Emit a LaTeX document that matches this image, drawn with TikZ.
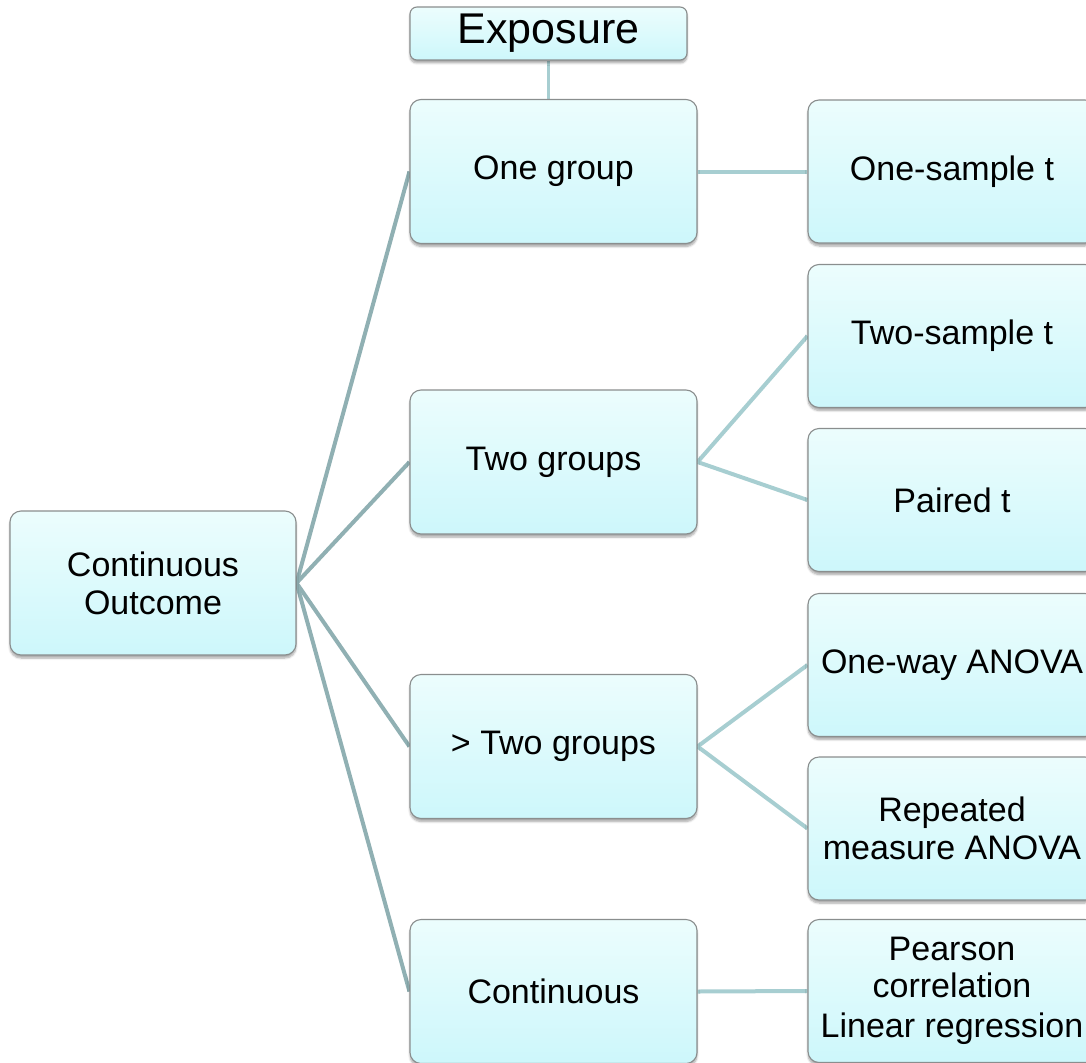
\documentclass[tikz,border=0pt]{standalone}
\usepackage{fontspec}
\setmainfont{Liberation Sans}
\usetikzlibrary{shadows.blur,backgrounds}
\definecolor{boxtop}{HTML}{ECFDFD}
\definecolor{boxbot}{HTML}{CDF7FB}
\definecolor{boxline}{HTML}{8A8E8E}
\definecolor{trunk}{HTML}{90B0B3}
\definecolor{twig}{HTML}{A7CED1}
\tikzset{
  card/.style={rectangle, rounded corners=11pt, draw=boxline, line width=1.1pt,
    top color=boxtop, bottom color=boxbot, align=center, inner sep=2pt,
    font=\fontsize{34}{38}\selectfont,
    blur shadow={shadow xshift=0pt, shadow yshift=-3pt, shadow blur steps=6, shadow opacity=35}},
  midcard/.style={card, minimum width=287pt, minimum height=144pt},
  leafcard/.style={card, minimum width=288pt, minimum height=143pt},
  trunkline/.style={draw=trunk, line width=4pt},
  twigline/.style={draw=twig, line width=4pt}
}
\begin{document}
\begin{tikzpicture}[x=1pt,y=-1pt]
\useasboundingbox (0,0) rectangle (1086,1062);
\clip (0,0) rectangle (1086,1062);

% header
\node[card, minimum width=277pt, minimum height=53pt, rounded corners=7pt,
      font=\fontsize{43}{46}\selectfont] (expo) at (548.5,33.5) {Exposure};

% root
\node[card, minimum width=286pt, minimum height=144pt] (root) at (153,583)
  {Continuous\\Outcome};

% exposure categories
\node[midcard] (one)   at (553.5,171.5) {One group};
\node[midcard] (two)   at (553.5,462)   {Two groups};
\node[midcard] (more)  at (553.5,746.5) {> Two groups};
\node[midcard] (cont)  at (553.5,991.5) {Continuous};

% tests
\node[leafcard] (ost)   at (952,171.5) {One-sample t};
\node[leafcard] (tst)   at (952,336)   {Two-sample t};
\node[leafcard] (pt)    at (952,500)   {Paired t};
\node[leafcard] (anova) at (952,665)   {One-way ANOVA};
\node[leafcard] (rma)   at (952,828.5) {Repeated\\measure ANOVA};
\node[leafcard, font=\fontsize{34}{37}\selectfont] (pear) at (952,991)
  {Pearson\\correlation\\[3pt]Linear regression};

\begin{pgfonlayer}{background}
  \draw[twigline, line width=2.5pt] (expo.south) -- (expo.south |- one.north);
  \foreach \t in {one,two,more,cont}
    \draw[trunkline] (root.east) -- (\t.west);
  \draw[twigline] (one.east) -- (ost.west);
  \draw[twigline] (two.east) -- (tst.west);
  \draw[twigline] (two.east) -- (pt.west);
  \draw[twigline] (more.east) -- (anova.west);
  \draw[twigline] (more.east) -- (rma.west);
  \draw[twigline] (cont.east) -- (pear.west);
\end{pgfonlayer}
\end{tikzpicture}
\end{document}
